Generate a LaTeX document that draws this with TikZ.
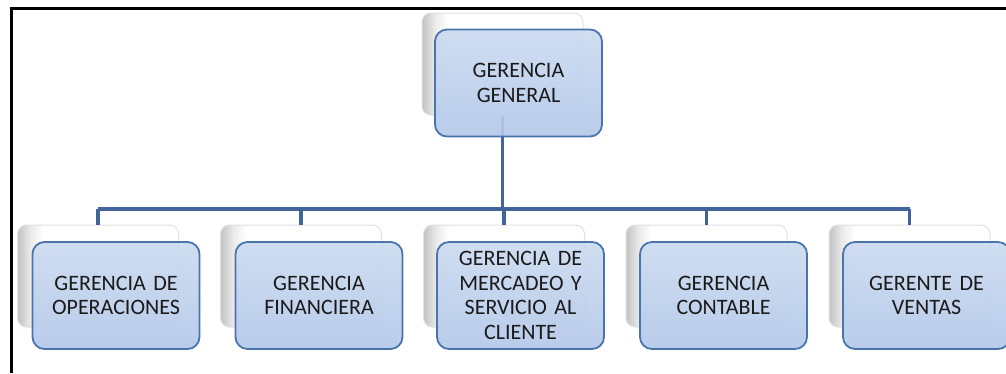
\documentclass[tikz,border=0pt]{standalone}
\usepackage{fontspec}
\setmainfont{Carlito}
\definecolor{boxfillA}{HTML}{CCDBF0}
\definecolor{boxfillB}{HTML}{B3C8E9}
\definecolor{boxdraw}{HTML}{4A74AC}
\definecolor{linkcol}{HTML}{41659A}
\definecolor{textcol}{HTML}{1A1A1A}
\pgfdeclarehorizontalshading{cardshade}{100bp}{color(0bp)=(black!24); color(25bp)=(black!24); color(29bp)=(black!8); color(33bp)=(white); color(100bp)=(white)}
\begin{document}
\begin{tikzpicture}[x=1pt,y=-1pt,
  backbox/.style={draw=black!12, line width=1pt, rounded corners=9pt,
    minimum width=161pt, minimum height=102pt, inner sep=0pt,
    shading=cardshade},
  frontbox/.style={draw=boxdraw, line width=1.8pt, rounded corners=12pt,
    top color=boxfillA, bottom color=boxfillB, fill opacity=0.92, text opacity=1,
    minimum width=167pt, minimum height=107pt, inner sep=0pt,
    align=center, text width=155pt, text=textcol,
    font=\fontsize{22}{24.5}\selectfont},
  link/.style={draw=linkcol, line width=3.6pt},
  frame/.style={draw=black, line width=3pt}]
\useasboundingbox (0,0) rectangle (1006,373);
\path[frame] (11,373) -- (11,8) -- (1006,8);
% back cards
\node[backbox] (b0) at (502.5,64) {};
\foreach \i/\x in {1/98,2/301,3/504,4/706.5,5/909.5}{
  \node[backbox] (b\i) at (\x,276) {};
}
% connectors
\coordinate (h) at (502.5,209);
\path[link] (b0.south) -- (h);
\coordinate (hl) at (b1.north |- h);
\coordinate (hr) at (b5.north |- h);
\path[link] (hl) -- (hr);
\foreach \i in {1,...,5}{
  \path[link] (b\i.north |- h) -- (b\i.north);
}
% front cards
\node[frontbox] (g) at (518.5,83) {GERENCIA\\GENERAL};
\node[frontbox] (n1) at (116,295.5) {GERENCIA DE\\OPERACIONES};
\node[frontbox] (n2) at (319,295.5) {GERENCIA\\FINANCIERA};
\node[frontbox] (n3) at (520.5,295.5) {GERENCIA DE\\MERCADEO Y\\SERVICIO AL\\CLIENTE};
\node[frontbox] (n4) at (723.5,295.5) {GERENCIA\\CONTABLE};
\node[frontbox] (n5) at (926.5,295.5) {GERENTE DE\\VENTAS};
\end{tikzpicture}
\end{document}
